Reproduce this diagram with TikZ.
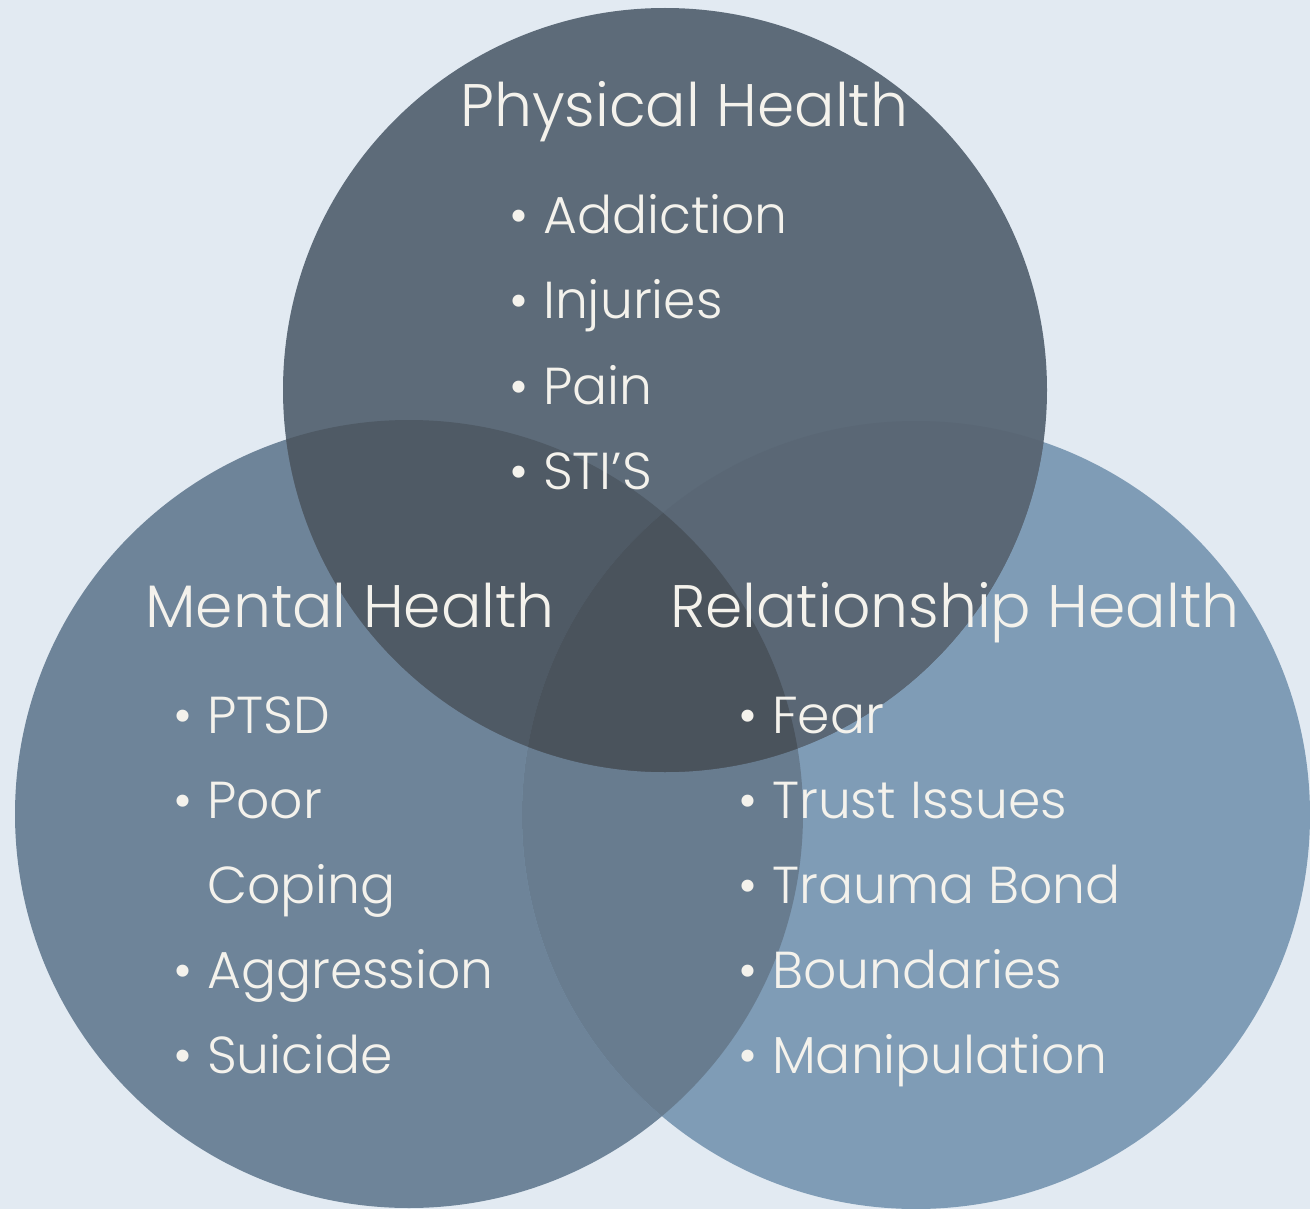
\documentclass[tikz,border=0pt]{standalone}
\usepackage{fontspec}
\IfFontExistsTF{Poppins-Light.otf}{\setmainfont{Poppins-Light.otf}}{\IfFontExistsTF{Poppins Light}{\setmainfont{Poppins Light}}{\setmainfont{Poppins}}}
\usepackage{tikz}

\definecolor{bgcol}{HTML}{E2EAF2}
\definecolor{physcol}{HTML}{5D6B79}
\definecolor{mentcol}{HTML}{6E8499}
\definecolor{relcol}{HTML}{7F9CB6}
\definecolor{pmcol}{HTML}{4F5A65}
\definecolor{prcol}{HTML}{5A6775}
\definecolor{mrcol}{HTML}{687C8F}
\definecolor{allcol}{HTML}{4A535C}
\definecolor{txtcol}{HTML}{F4F2EC}

\tikzset{
  headtext/.style={font=\fontsize{60}{66}\selectfont, text=txtcol, anchor=base west, inner sep=0pt},
  itemtext/.style={font=\fontsize{52}{58}\selectfont, text=txtcol, anchor=base west, inner sep=0pt}
}
\newcommand{\bul}{\makebox[34pt][l]{\textbullet}}

\begin{document}
\begin{tikzpicture}[x=1pt,y=-1pt]
		\fill[bgcol] (0,0) rectangle (1310,1209);
		\useasboundingbox (0,0) rectangle (1310,1209);
		\coordinate (phys) at (665,390);
		\coordinate (ment) at (409,814);
		\coordinate (rel) at (916,815);
		%circles
		\fill[mentcol] (ment) circle[radius=394pt];
		\fill[relcol] (rel) circle[radius=394pt];
		\begin{scope}
			\clip (ment) circle[radius=394pt];
			\fill[mrcol] (rel) circle[radius=394pt];
		\end{scope}
		\fill[physcol] (phys) circle[radius=382pt];
		%%% overlaps with top
		\begin{scope}
			\clip (phys) circle[radius=382pt];
			\fill[pmcol] (ment) circle[radius=394pt];
			\fill[prcol] (rel) circle[radius=394pt];
			\clip (ment) circle[radius=394pt];
			\fill[allcol] (rel) circle[radius=394pt];
		\end{scope}
		%physical
		\node[headtext] (physhead) at (460,127) {Physical Health};
		\node[itemtext] (addiction) at (509,234) {\bul Addiction};
		\node[itemtext] (injuries) at (509,319) {\bul Injuries};
		\node[itemtext] (pain) at (509,404) {\bul Pain};
		\node[itemtext] (stis) at (509,489) {\bul STI’S};
		%mental
		\node[headtext] (menthead) at (145,627) {Mental Health};
		\node[itemtext] (ptsd) at (173,733) {\bul PTSD};
		\node[itemtext] (poor) at (173,818) {\bul Poor};
		\node[itemtext] (coping) at (207,903) {Coping};
		\node[itemtext] (aggression) at (173,988) {\bul Aggression};
		\node[itemtext] (suicide) at (173,1073) {\bul Suicide};
		%relationship
		\node[headtext] (relhead) at (670,627) {Relationship Health};
		\node[itemtext] (fear) at (738,733) {\bul Fear};
		\node[itemtext] (trust) at (738,818) {\bul Trust Issues};
		\node[itemtext] (bond) at (738,903) {\bul Trauma Bond};
		\node[itemtext] (bounds) at (738,988) {\bul Boundaries};
		\node[itemtext] (manip) at (738,1073) {\bul Manipulation};
	\end{tikzpicture}
\end{document}
